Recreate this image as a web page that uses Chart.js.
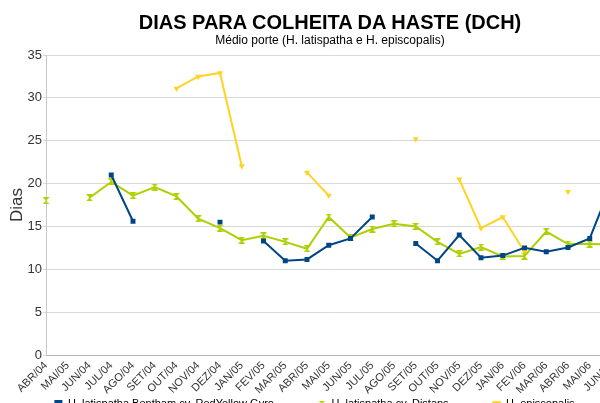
<!DOCTYPE html>
<html>
<head>
<meta charset="utf-8">
<script src="https://cdn.jsdelivr.net/npm/chart.js@4"></script>
<style>
html,body{margin:0;padding:0;background:#fff;width:600px;height:403px;overflow:hidden;}
#wrap{position:relative;width:629px;height:470px;}
#c{position:absolute;left:0;top:0;}
.t{position:absolute;left:0;width:660px;text-align:center;color:#000;font-family:"Liberation Sans",Arial,sans-serif;white-space:nowrap;}
#title{top:10px;font-size:20px;line-height:24px;font-weight:bold;}
#sub{top:33px;font-size:12px;line-height:14px;}
</style>
</head>
<body>
<div id="wrap">
<canvas id="c" width="629" height="470"></canvas>
<div class="t" id="title">DIAS PARA COLHEITA DA HASTE (DCH)</div>
<div class="t" id="sub">Médio porte (H. latispatha e H. episcopalis)</div>
</div>
<script>
const categories = ['ABR/04','MAI/05','JUN/04','JUL/04','AGO/04','SET/04','OUT/04','NOV/04','DEZ/04','JAN/05','FEV/05','MAR/05','ABR/05','MAI/05','JUN/05','JUL/05','AGO/05','SET/05','OUT/05','NOV/05','DEZ/05','JAN/06','FEV/06','MAR/06','ABR/06','MAI/06','JUN/06'];
const seriesNames = ['H. latispatha Bentham cv. RedYellow Gyro','H. latispatha cv. Distans','H. episcopalis'];
const redYellowGyro = [null,null,null,21.0,15.6,null,null,null,15.5,null,13.3,11.0,11.15,12.8,13.6,16.1,null,13.0,11.0,14.0,11.35,11.6,12.5,12.05,12.55,13.6,20.0];
const distans = [18.0,null,18.35,20.2,18.6,19.6,18.5,15.9,14.8,13.4,13.9,13.2,12.4,16.1,13.7,14.7,15.3,15.0,13.2,11.8,12.6,11.5,11.55,14.4,12.95,12.95,12.9];
const episcopalis = [null,null,null,null,null,null,31.1,32.5,32.9,22.05,null,null,21.3,18.6,null,null,null,25.2,null,20.5,14.8,16.1,12.05,null,19.05,null,null];
const yMin = 0, yMax = 35, yStep = 5;

const BLUE = '#004586', GREEN = '#aecf00', YELLOW = '#ffd320';

function hourglass(color){
  const cv = document.createElement('canvas');
  cv.width = 7; cv.height = 7;
  const g = cv.getContext('2d');
  g.fillStyle = color;
  g.beginPath();
  g.moveTo(0,0); g.lineTo(7,0); g.lineTo(3.5,3.5); g.closePath(); g.fill();
  g.beginPath();
  g.moveTo(0,7); g.lineTo(7,7); g.lineTo(3.5,3.5); g.closePath(); g.fill();
  g.fillRect(3,0,1,7);
  return cv;
}
const greenMarker = hourglass(GREEN);

const FONT = '"Liberation Sans", Arial, sans-serif';

// move the legend up so that it sits just under the rotated month labels
const legendShift = {
  id: 'legendShift',
  afterLayout(chart) {
    const lg = chart.legend;
    if (!lg) return;
    const dy = 354.5 - lg.top;
    lg.top += dy; lg.bottom += dy;
  }
};

new Chart(document.getElementById('c'), {
  type: 'line',
  data: {
    labels: categories,
    datasets: [
      {label: seriesNames[0], data: redYellowGyro, borderColor: BLUE, backgroundColor: BLUE,
       borderWidth: 2, pointStyle: 'rect', pointRadius: 3.5, pointBorderWidth: 0, pointBackgroundColor: BLUE, spanGaps: false, tension: 0},
      {label: seriesNames[1], data: distans, borderColor: GREEN, backgroundColor: GREEN,
       borderWidth: 2, pointStyle: greenMarker, pointRadius: 3.5, pointBorderWidth: 0, spanGaps: false, tension: 0},
      {label: seriesNames[2], data: episcopalis, borderColor: YELLOW, backgroundColor: YELLOW,
       borderWidth: 2, pointStyle: 'triangle', rotation: 180, pointRadius: 3.5, pointBorderWidth: 0, pointBackgroundColor: YELLOW, spanGaps: false, tension: 0}
    ]
  },
  plugins: [legendShift],
  options: {
    responsive: false,
    animation: false,
    layout: {padding: {top: 55, left: 0, right: 0, bottom: 0}},
    plugins: {
      title: {display: false},
      tooltip: {enabled: false},
      legend: {
        display: true,
        position: 'bottom',
        labels: {
          usePointStyle: true,
          boxWidth: 8, boxHeight: 8,
          padding: 44,
          color: '#000',
          font: {family: FONT, size: 11}
        }
      }
    },
    scales: {
      x: {
        type: 'category',
        offset: false,
        grid: {display: false, drawTicks: false},
        border: {display: true, color: '#b3b3b3', width: 1},
        ticks: {autoSkip: false, maxRotation: 45, minRotation: 45, padding: 4, color: '#333', font: {family: FONT, size: 11}},
        afterFit: s => { s.height = 50; s.paddingRight = 17.5; }
      },
      y: {
        min: yMin, max: yMax,
        grid: {color: '#d9d9d9', lineWidth: 1, tickLength: 3, drawTicks: true},
        border: {display: true, color: '#c8c8c8', width: 1},
        ticks: {stepSize: yStep, padding: 1, color: '#333', font: {family: FONT, size: 13}},
        title: {display: true, text: 'Dias', color: '#333', font: {family: FONT, size: 17}, padding: {top: 7, bottom: 0}},
        afterFit: s => { s.width = 46; }
      }
    }
  }
});
</script>
</body>
</html>
